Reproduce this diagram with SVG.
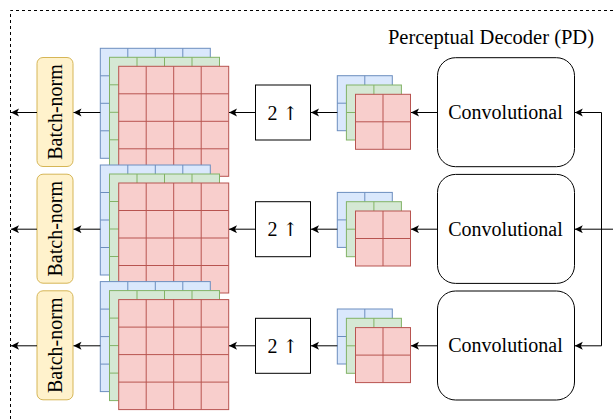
<svg xmlns="http://www.w3.org/2000/svg" xmlns:xlink="http://www.w3.org/1999/xlink" width="613" height="419" viewBox="0 0 613 419">
<style>
text{font-family:"Liberation Serif","Times New Roman",serif;font-size:20px;fill:#000;text-anchor:middle;dominant-baseline:central}
.sym{font-family:"DejaVu Serif","DejaVu Sans",serif;font-size:19px}
.blue{fill:#dae8fc;stroke:#6c8ebf}
.green{fill:#d5e8d4;stroke:#82b366}
.red{fill:#f8cecc;stroke:#b85450}
.bn{fill:#fff2cc;stroke:#d6b656}
.box{fill:#fff;stroke:#000}
.conn{fill:none;stroke:#000;stroke-width:1}
.arr{marker-end:url(#ah)}
.frame{fill:none;stroke:#000;stroke-dasharray:3 3}
</style>
<defs>
<marker id="ah" markerUnits="userSpaceOnUse" markerWidth="10" markerHeight="10" refX="8" refY="4" orient="auto">
<path d="M0,0 L8,4 L0,8 L2,4 Z" fill="#000"/>
</marker>
<g id="big"><rect width="110" height="110"/><path fill="none" d="M27.5,0V110M55,0V110M82.5,0V110M0,27.5H110M0,55H110M0,82.5H110"/></g>
<g id="small"><rect width="55" height="55"/><path fill="none" d="M27.5,0V55M0,27.5H55"/></g>
<g id="bigstack"><use xlink:href="#big" class="blue" x="100.3" y="48.3"/><use xlink:href="#big" class="green" x="109.5" y="57.3"/><use xlink:href="#big" class="red" x="118.7" y="66.3"/></g>
<g id="smallstack"><use xlink:href="#small" class="blue" x="337.3" y="75.7"/><use xlink:href="#small" class="green" x="346.4" y="85"/><use xlink:href="#small" class="red" x="355.5" y="94.3"/></g>
</defs>
<rect width="613" height="419" fill="#fff"/>
<path class="frame" d="M10.5,419V10.5H613"/>
<text x="594" y="37" style="text-anchor:end;font-size:20.5px">Perceptual Decoder (PD)</text>

<g id="row1">
<g id="batchnorm1"><rect class="bn" x="37" y="57.5" width="36" height="109" rx="6"/><text transform="translate(55,112) rotate(-90)">Batch-norm</text></g>
<g id="features1"><use xlink:href="#bigstack"/></g>
<g id="upsample1"><rect class="box" x="255.5" y="85" width="55" height="55"/><text x="283" y="112.5">2 <tspan class="sym">↑</tspan></text></g>
<g id="smallfeat1"><use xlink:href="#smallstack"/></g>
<g id="conv1"><rect class="box" x="437.5" y="57.7" width="137" height="109" rx="18"/><text x="505.5" y="112">Convolutional</text></g>
</g>
<g id="row2" transform="translate(0,116.7)">
<g id="batchnorm2"><rect class="bn" x="37" y="57.5" width="36" height="109" rx="6"/><text transform="translate(55,112) rotate(-90)">Batch-norm</text></g>
<g id="features2"><use xlink:href="#bigstack"/></g>
<g id="upsample2"><rect class="box" x="255.5" y="85" width="55" height="55"/><text x="283" y="112.5">2 <tspan class="sym">↑</tspan></text></g>
<g id="smallfeat2"><use xlink:href="#smallstack"/></g>
<g id="conv2"><rect class="box" x="437.5" y="57.7" width="137" height="109" rx="18"/><text x="505.5" y="112">Convolutional</text></g>
</g>
<g id="row3" transform="translate(0,233.3)">
<g id="batchnorm3"><rect class="bn" x="37" y="57.5" width="36" height="109" rx="6"/><text transform="translate(55,112) rotate(-90)">Batch-norm</text></g>
<g id="features3"><use xlink:href="#bigstack"/></g>
<g id="upsample3"><rect class="box" x="255.5" y="85" width="55" height="55"/><text x="283" y="112.5">2 <tspan class="sym">↑</tspan></text></g>
<g id="smallfeat3"><use xlink:href="#smallstack"/></g>
<g id="conv3"><rect class="box" x="437.5" y="57.7" width="137" height="109" rx="18"/><text x="505.5" y="112">Convolutional</text></g>
</g>

<g id="connectors">
<path class="conn arr" d="M437.5,112.5H411"/>
<path class="conn arr" d="M337.3,112.5H311"/>
<path class="conn arr" d="M255.5,112.5H229"/>
<path class="conn arr" d="M100.3,112.5H73.5"/>
<path class="conn arr" d="M37,112.5H11"/>
<path class="conn arr" d="M437.5,229.2H411"/>
<path class="conn arr" d="M337.3,229.2H311"/>
<path class="conn arr" d="M255.5,229.2H229"/>
<path class="conn arr" d="M100.3,229.2H73.5"/>
<path class="conn arr" d="M37,229.2H11"/>
<path class="conn arr" d="M437.5,345.8H411"/>
<path class="conn arr" d="M337.3,345.8H311"/>
<path class="conn arr" d="M255.5,345.8H229"/>
<path class="conn arr" d="M100.3,345.8H73.5"/>
<path class="conn arr" d="M37,345.8H11"/>
<path class="conn arr" d="M601.5,112.5H574.8"/>
<path class="conn" d="M601.5,112.5V345.8"/>
<path class="conn arr" d="M601.5,345.8H574.8"/>
<path class="conn arr" d="M613,229.2H574.8"/>
</g>
</svg>
